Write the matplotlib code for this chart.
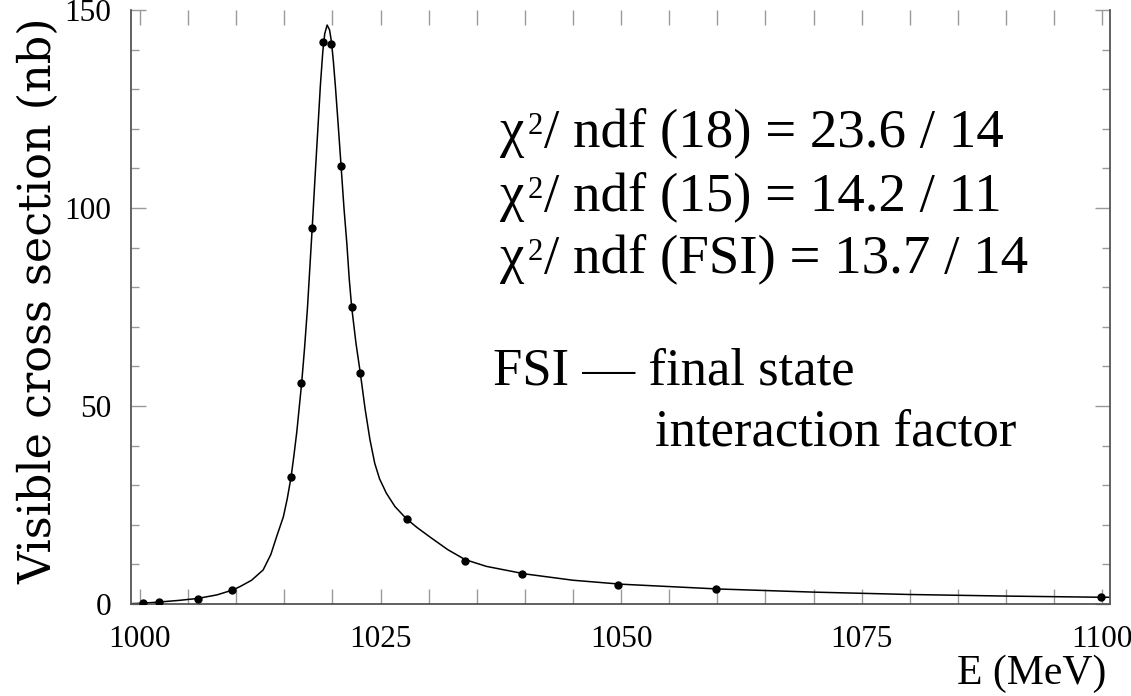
import matplotlib
matplotlib.use("Agg")
import matplotlib.pyplot as plt
from matplotlib.ticker import MultipleLocator, FixedLocator

# Data points
energy = [1000.3, 1002.0, 1006.0, 1009.6, 1015.7, 1016.7, 1017.9, 1019.0, 1019.9,
          1020.9, 1022.0, 1022.9, 1027.7, 1033.8, 1039.7, 1049.7, 1059.9, 1099.9]
xsec = [0.2, 0.5, 1.3, 3.5, 32.0, 55.8, 95.0, 142.0, 141.5,
        110.6, 75.0, 58.3, 21.5, 10.9, 7.6, 4.8, 3.8, 1.8]

# Fit curve samples
curve_e = [999.1, 1000.3, 1002.0, 1004.0, 1006.0, 1008.0, 1009.6, 1010.4, 1011.6,
           1012.8, 1013.6, 1014.2, 1014.9, 1015.3, 1015.7, 1016.0, 1016.3, 1016.8,
           1017.1, 1017.4, 1017.9, 1018.2, 1018.5, 1018.75, 1019.0, 1019.2, 1019.45,
           1019.7, 1019.9, 1020.1, 1020.3, 1020.6, 1020.9, 1021.2, 1021.5, 1021.75,
           1022.0, 1022.45, 1022.9, 1023.4, 1023.9, 1024.4, 1024.9, 1025.6, 1026.5,
           1027.7, 1028.8, 1030.2, 1032.0, 1033.8, 1036.0, 1040.0, 1045.0, 1050.0,
           1060.0, 1070.0, 1080.0, 1090.0, 1100.0, 1100.8]
curve_y = [0.1, 0.2, 0.5, 0.9, 1.4, 2.3, 3.5, 4.4, 6.0,
           8.6, 12.5, 17.0, 22.0, 26.5, 32.0, 37.5, 43.5, 55.7,
           64.5, 74.5, 95.0, 108.0, 120.5, 131.0, 139.5, 144.0, 146.2,
           145.0, 142.0, 137.0, 131.0, 121.0, 110.6, 100.0, 91.0, 82.0,
           75.0, 65.8, 58.3, 49.2, 41.5, 35.5, 31.6, 28.0, 24.6,
           21.5, 19.3, 16.8, 13.7, 11.2, 9.5, 7.6, 6.0, 5.0,
           3.8, 3.0, 2.4, 2.0, 1.7, 1.7]

x_major = [1000, 1025, 1050, 1075, 1100]
y_major = [0, 50, 100, 150]

fit_lines = ['/ ndf (18) = 23.6 / 14',
             '/ ndf (15) = 14.2 / 11',
             '/ ndf (FSI) = 13.7 / 14']

plt.rcParams['font.family'] = ['Liberation Serif', 'DejaVu Serif']

W, H = 1131, 696
fig = plt.figure(figsize=(W / 100, H / 100), dpi=100)
ax = fig.add_axes([131 / W, 1 - 604 / H, (1110 - 131) / W, (604 - 10) / H])

ax.plot(curve_e, curve_y, color='black', lw=1.1, zorder=2)
ax.plot(energy, xsec, 'o', color='black', ms=5, zorder=3)

ax.set_xlim(999.07, 1100.8)
ax.set_ylim(0, 150)

ax.xaxis.set_major_locator(FixedLocator(x_major))
ax.xaxis.set_minor_locator(MultipleLocator(5))
ax.yaxis.set_major_locator(FixedLocator(y_major))
ax.yaxis.set_minor_locator(MultipleLocator(10))

tick_col = '#999999'
ax.tick_params(axis='both', which='both', direction='in', top=True, right=True,
               color=tick_col, width=1.0, labelsize=22.5)
ax.tick_params(axis='x', which='both', length=11, pad=15)
ax.tick_params(axis='y', which='major', length=11, pad=14)
ax.tick_params(axis='y', which='minor', length=6)

for side in ['left', 'right', 'bottom']:
    ax.spines[side].set_color('#555555')
    ax.spines[side].set_linewidth(1.3)
ax.spines['top'].set_visible(False)

ax.set_ylabel('Visible cross section (nb)', fontsize=32, family='DejaVu Serif',
              va='center', ha='center')
ax.yaxis.set_label_coords(-0.094, 0.51)
fig.text(1106 / W, 1 - 684 / H, 'E (MeV)', fontsize=30, ha='right', va='baseline')

FS = 39.5
baselines = [146, 210, 272]
for base, rest in zip(baselines, fit_lines):
    t1 = fig.text(500 / W, 1 - base / H, 'χ', fontsize=FS, ha='left', va='baseline')
    ax.annotate('2', xy=(1, 1), xycoords=t1, xytext=(2, -3),
                textcoords='offset points', fontsize=22, ha='left', va='top',
                annotation_clip=False)
    ax.annotate(rest, xy=(1, 0), xycoords=t1, xytext=(14, 0),
                textcoords='offset points', fontsize=FS, ha='left', va='bottom',
                annotation_clip=False)

fig.text(493 / W, 1 - 385 / H, 'FSI — final state', fontsize=38, ha='left',
         va='baseline')
fig.text(655 / W, 1 - 445 / H, 'interaction factor', fontsize=38, ha='left',
         va='baseline')

fig.savefig('out.png', dpi=100)
